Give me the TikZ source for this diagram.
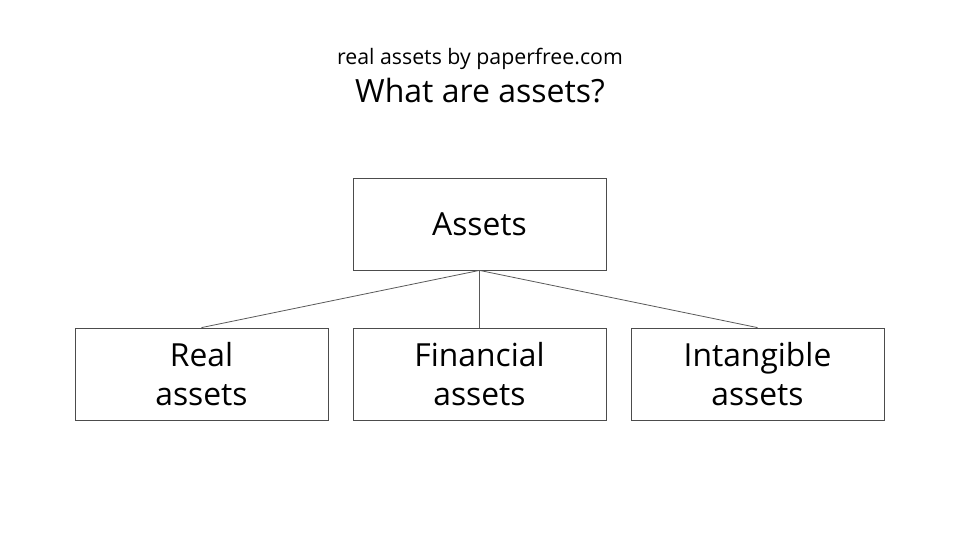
\documentclass[tikz,border=0pt]{standalone}
\usepackage{fontspec}
\setmainfont{Open Sans}
\begin{document}
\begin{tikzpicture}[x=1pt,y=-1pt,
  box/.style={draw=black!70, line width=0.8pt, minimum width=253pt, minimum height=92pt, inner sep=0pt, align=center, font=\fontsize{31.8}{38.5}\selectfont},
  link/.style={draw=black!65, line width=0.8pt}]
\useasboundingbox (0,0) rectangle (960,540);
\node (sub) at (480,59) {\fontsize{21.3}{25}\selectfont real assets by paperfree.com};
\node (title) at (480,91) {\fontsize{32}{38}\selectfont What are assets?};
\node[box] (root) at (479.5,224) {\raisebox{-2pt}{Assets}};
\node[box] (real) at (201.5,374) {\raisebox{-1pt}{Real}\\\raisebox{-1pt}{assets}};
\node[box] (fin) at (479.5,374) {\raisebox{-1pt}{Financial}\\\raisebox{-1pt}{assets}};
\node[box] (intan) at (757.5,374) {\raisebox{-1pt}{Intangible}\\\raisebox{-1pt}{assets}};
\draw[link] (root.south) -- (real.north);
\draw[link] (root.south) -- (fin.north);
\draw[link] (root.south) -- (intan.north);
\end{tikzpicture}
\end{document}
